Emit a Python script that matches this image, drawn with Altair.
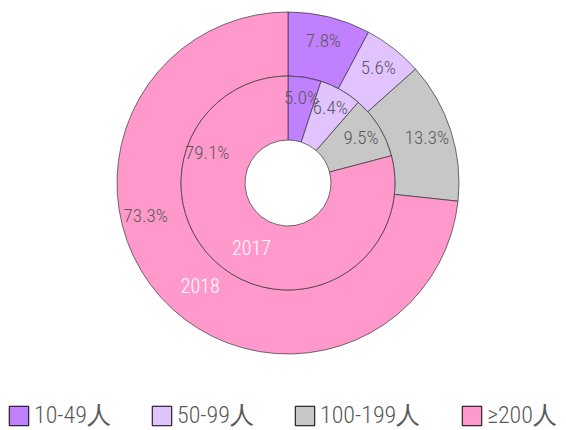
import altair as alt
import pandas as pd

categories = ["10-49人", "50-99人", "100-199人", "≥200人"]
colors = ["#C080FF", "#E1C4FF", "#C7C7C7", "#FF99CC"]
values_2018 = [7.8, 5.6, 13.3, 73.3]
values_2017 = [5.0, 6.4, 9.5, 79.1]

rows = []
for year, vals in (("2018", values_2018), ("2017", values_2017)):
    for i, (c, v) in enumerate(zip(categories, vals)):
        rows.append({"year": year, "category": c, "idx": i, "value": v,
                     "label": f"{v:.1f}%"})
df = pd.DataFrame(rows)

FONT = "Roboto Condensed, Liberation Sans Narrow, DejaVu Sans Condensed, sans-serif"

theta_scale = alt.Scale(domain=[0, 100])

color = alt.Color("category:N", scale=alt.Scale(domain=categories, range=colors),
                  legend=alt.Legend(title=None, orient="none", legendX=-11, legendY=396,
                                    direction="horizontal",
                                    columns=4, symbolType="square", symbolSize=380,
                                    symbolStrokeColor="black", symbolStrokeWidth=1,
                                    symbolOpacity=1, labelFontSize=24, labelFont=FONT,
                                    labelFontWeight=300,
                                    labelColor="#595959", columnPadding=39,
                                    labelOffset=3, labelLimit=200))

layers = []
# ring geometry and label placement (fraction along the large slice)
rings = (("2018", 107, 171, 146, 136, 0.61),
         ("2017", 43, 107, 86, 75, 0.755))
for year, r_in, r_out, r_lab, r_name, big_frac in rings:
    b = (alt.Chart(df)
         .transform_filter(alt.datum.year == year)
         .transform_window(cum="sum(value)", sort=[alt.SortField("idx", order="ascending")])
         .transform_calculate(start="datum.cum - datum.value", end="datum.cum")
         .transform_calculate(
             lt=f"datum.idx == 3 ? datum.start + datum.value * {big_frac} : datum.start + datum.value / 2",
             nt="datum.start + datum.value * 0.47",
             name=f"datum.idx == 3 ? '{year}' : ''"))
    layers.append(b.mark_arc(radius=r_out, radius2=r_in, stroke="#333333", strokeWidth=0.7)
                  .encode(theta=alt.Theta("start:Q", scale=theta_scale), theta2="end:Q",
                          color=color))
    layers.append(b.mark_text(radius=r_lab, font=FONT, fontSize=19, fontWeight=300, color="#595959")
                  .encode(theta=alt.Theta("lt:Q", scale=theta_scale), text="label:N"))
    layers.append(b.mark_text(radius=r_name, font=FONT, fontSize=20, fontWeight=300, color="white")
                  .encode(theta=alt.Theta("nt:Q", scale=theta_scale), text="name:N"))

chart = (alt.layer(*layers)
         .properties(width=540, height=350,
                     padding={"left": 10, "right": 0, "top": 0, "bottom": 72},
                     autosize=alt.AutoSizeParams(type="none"))
         .configure_view(stroke=None))
chart.save("out.html", embed_options={"renderer": "svg", "actions": False})
